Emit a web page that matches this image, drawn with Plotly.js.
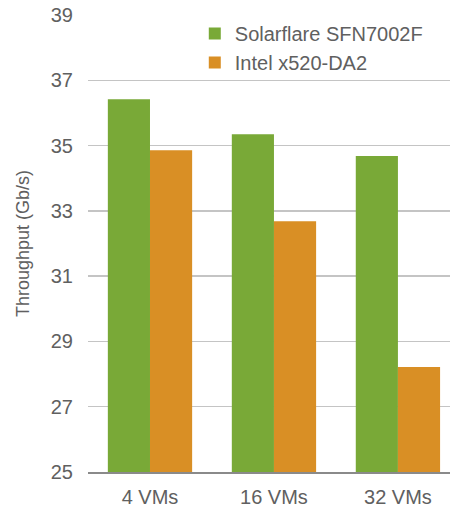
<!DOCTYPE html>
<html>
<head>
<meta charset="utf-8">
<script src="https://cdn.plot.ly/plotly-3.0.1.min.js"></script>
<style>html,body{margin:0;padding:0;background:#fff;}#chart{width:450px;height:508px;}</style>
</head>
<body>
<div id="chart"></div>
<script>
const categories = ["4 VMs", "16 VMs", "32 VMs"];
const solarflare = [36.42, 35.35, 34.68];
const intel = [34.86, 32.68, 28.22];
const seriesNames = ["Solarflare SFN7002F", "Intel x520-DA2"];
const yTicks = [25, 27, 29, 31, 33, 35, 37, 39];

const font = "'Liberation Sans', Arial, Helvetica, sans-serif";
const data = [
  {type: "bar", name: seriesNames[0], x: categories, y: solarflare,
   marker: {color: "#79a937"}},
  {type: "bar", name: seriesNames[1], x: categories, y: intel,
   marker: {color: "#d98f25"}}
];
const layout = {
  width: 450, height: 508,
  margin: {l: 88, r: 0, t: 15, b: 36},
  paper_bgcolor: "#fff", plot_bgcolor: "#fff",
  barmode: "group", bargap: 0.32, bargroupgap: 0,
  font: {family: font, color: "#606060"},
  showlegend: true,
  legend: {x: 0.295, xanchor: "left", y: 1.002, yanchor: "top",
           font: {size: 20, color: "#606060"}, bgcolor: "rgba(0,0,0,0)",
           tracegroupgap: 0},
  xaxis: {type: "category", range: [-0.5, 2.42], showgrid: false,
          showline: true, linecolor: "#8a8a8a", linewidth: 1.5,
          ticks: "", ticklabelstandoff: 6, tickfont: {size: 20, color: "#606060"}},
  yaxis: {range: [25, 39], tickvals: yTicks, ticktext: yTicks.map(String),
          showgrid: true, gridcolor: "#c4c4c4", gridwidth: 1.5,
          zeroline: false, showline: false, ticks: "",
          ticklabelstandoff: 14,
          tickfont: {size: 20, color: "#606060"},
          title: {text: "Throughput (Gb/s)", font: {size: 18, color: "#606060"}, standoff: 16}}
};
Plotly.newPlot("chart", data, layout, {displayModeBar: false, staticPlot: true});
</script>
</body>
</html>
